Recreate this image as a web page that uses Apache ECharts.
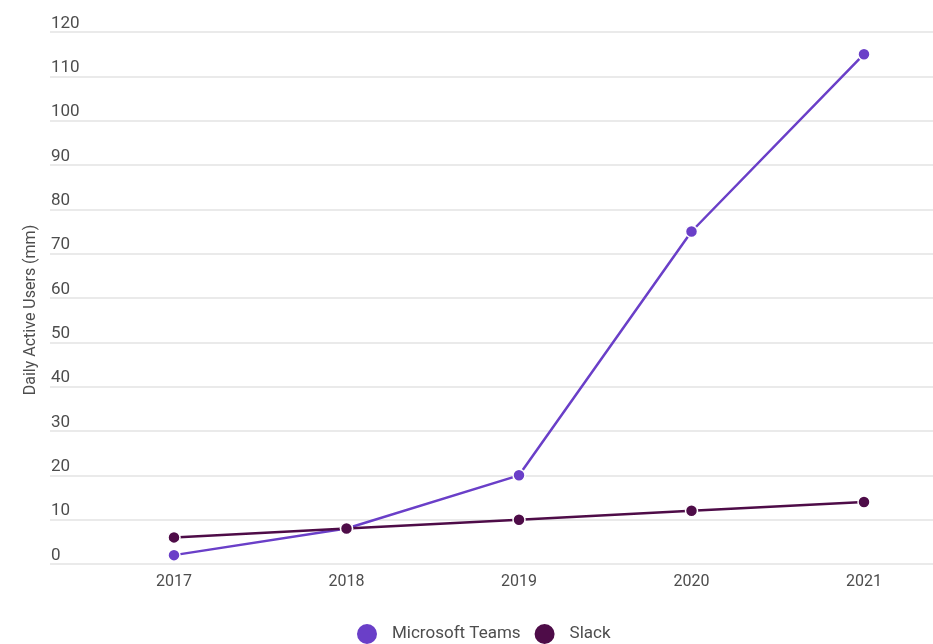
<!DOCTYPE html>
<html>
<head>
<meta charset="utf-8">
<script src="https://cdn.jsdelivr.net/npm/echarts@6/dist/echarts.min.js"></script>
<style>html,body{margin:0;padding:0;background:#fff}#c{width:933px;height:644px}</style>
</head>
<body>
<div id="c"></div>
<script>
var years = ['2017', '2018', '2019', '2020', '2021'];
var teams = [2, 8, 20, 75, 115];
var slack = [6, 8, 10, 12, 14];
var yTicks = { min: 0, max: 120, interval: 10 };

var chart = echarts.init(document.getElementById('c'));
var font = 'Roboto, "Noto Sans", sans-serif';
var txt = '#4d4d4d';
chart.setOption({
  animation: false,
  textStyle: { fontFamily: font },
  grid: [
    { left: 50, right: 0, top: 32, bottom: 80 },
    { left: 174, right: 69, top: 32, bottom: 80 }
  ],
  xAxis: [
    { gridIndex: 0, type: 'category', data: years, show: false },
    {
      gridIndex: 1, type: 'category', data: years, boundaryGap: false,
      axisLine: { show: false }, axisTick: { show: false },
      axisLabel: { color: txt, fontSize: 16, margin: 10, fontFamily: font }
    }
  ],
  yAxis: [
    {
      gridIndex: 0, type: 'value', min: yTicks.min, max: yTicks.max, interval: yTicks.interval,
      axisLine: { show: false }, axisTick: { show: false },
      splitLine: { lineStyle: { color: '#e3e3e3', width: 1.5 } },
      axisLabel: { inside: true, margin: 1, verticalAlign: 'bottom', align: 'left', color: txt, fontSize: 17, fontFamily: font }
    },
    {
      gridIndex: 1, type: 'value', min: yTicks.min, max: yTicks.max, interval: yTicks.interval,
      show: false, splitLine: { show: false }
    }
  ],
  legend: {
    top: 622, left: 355, padding: 0,
    icon: 'circle', itemWidth: 22, itemHeight: 22, itemGap: 12,
    textStyle: { color: txt, fontSize: 17, fontFamily: font, padding: [0, 0, 0, 9] },
    data: ['Microsoft Teams', 'Slack']
  },
  graphic: [{
    type: 'text', x: 31, y: 310, rotation: Math.PI / 2,
    style: { text: 'Daily Active Users (mm)', fill: txt, fontSize: 16, fontFamily: font, align: 'center', verticalAlign: 'middle' }
  }],
  series: [
    {
      name: 'Microsoft Teams', type: 'line', xAxisIndex: 1, yAxisIndex: 1, data: teams,
      symbol: 'circle', symbolSize: 12, color: '#6a3fc8',
      lineStyle: { width: 2.5, color: '#6a3fc8' },
      itemStyle: { color: '#6a3fc8', borderColor: '#fff', borderWidth: 1.5 }
    },
    {
      name: 'Slack', type: 'line', xAxisIndex: 1, yAxisIndex: 1, data: slack,
      symbol: 'circle', symbolSize: 12, color: '#4e0c48',
      lineStyle: { width: 2.5, color: '#4e0c48' },
      itemStyle: { color: '#4e0c48', borderColor: '#fff', borderWidth: 1.5 }
    }
  ]
});
</script>
</body>
</html>
